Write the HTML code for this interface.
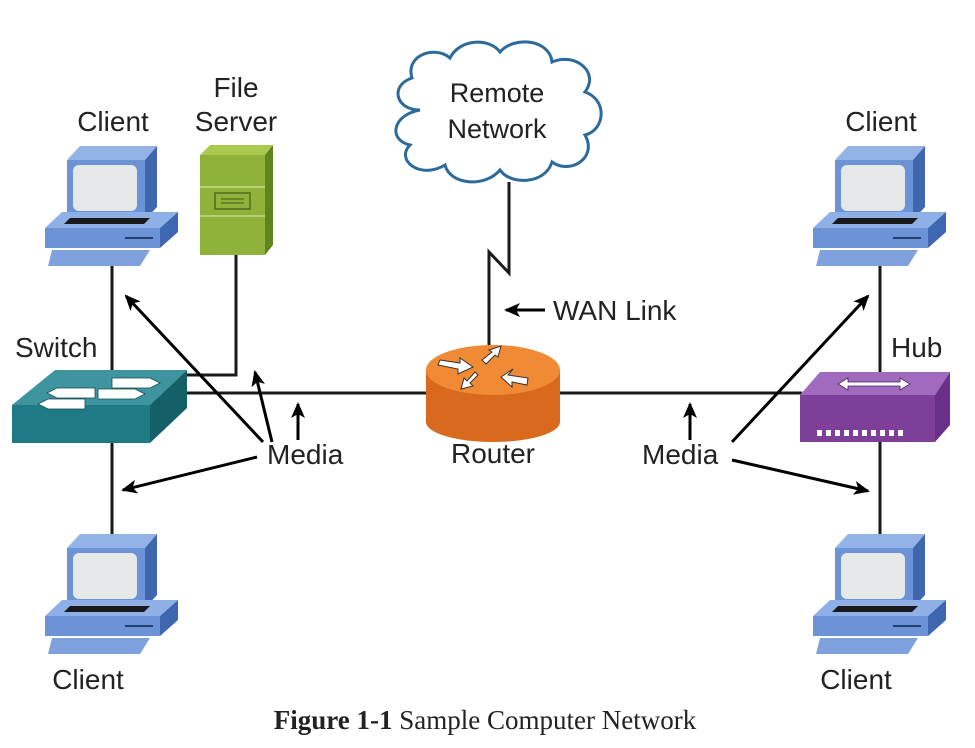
<!DOCTYPE html>
<html><head><meta charset="utf-8"><style>
html,body{margin:0;padding:0;background:#fff;}
svg{display:block;}
text{font-family:"Liberation Sans",sans-serif;fill:#222;}
</style></head><body>
<svg width="975" height="748" viewBox="0 0 975 748" xmlns="http://www.w3.org/2000/svg">
<defs>
<g id="pc">
  <polygon points="67,160 80,146 157,146 145,160" fill="#93b3e8"/>
  <polygon points="145,160 157,146 157,207 145,220" fill="#3f67b0"/>
  <rect x="67" y="160" width="78" height="60" fill="#6b93d6"/>
  <rect x="73" y="165" width="64" height="46" rx="6" fill="#e6e8ea"/>
  <polygon points="62,212 178,212 160,228 45,228" fill="#8fb0e6"/>
  <polygon points="70,218 150,218 144,224 64,224" fill="#1a1a1a"/>
  <polygon points="160,228 178,212 178,232 160,248" fill="#3f67b0"/>
  <rect x="45" y="228" width="115" height="20" fill="#6b93d6"/>
  <rect x="125" y="237" width="28" height="2" fill="#24406e"/>
  <polygon points="52,250 150,250 140,266 48,266" fill="#7fa2de"/>
</g>
<marker id="ah" markerWidth="16" markerHeight="14" refX="14" refY="7" orient="auto" markerUnits="userSpaceOnUse">
  <path d="M0,0 L16,7 L0,14 L4,7 Z" fill="#000"/>
</marker>
</defs>

<g stroke="#1a1a1a" stroke-width="3" fill="none">
  <line x1="112" y1="266" x2="112" y2="372"/>
  <line x1="112" y1="443" x2="112" y2="534"/>
  <polyline points="236,255 236,375 187,375"/>
  <line x1="187" y1="393" x2="430" y2="393"/>
  <line x1="556" y1="393" x2="802" y2="393"/>
  <polyline points="509,182 509,273 489,252 489,350"/>
  <line x1="880" y1="266" x2="880" y2="374"/>
  <line x1="880" y1="442" x2="880" y2="534"/>
</g>

<use href="#pc"/>
<use href="#pc" transform="translate(0,388)"/>
<use href="#pc" transform="translate(768,0)"/>
<use href="#pc" transform="translate(768,388)"/>

<polygon points="200,155 210,145 273,145 265,155" fill="#a9c94f"/>
<polygon points="265,155 273,145 273,245 265,255" fill="#5f8420"/>
<rect x="200" y="155" width="65" height="100" fill="#8fb23a"/>
<line x1="200" y1="187" x2="265" y2="187" stroke="#c3d98a" stroke-width="1.5"/>
<line x1="200" y1="216" x2="265" y2="216" stroke="#c3d98a" stroke-width="1.5"/>
<rect x="215" y="193" width="35" height="16" fill="none" stroke="#4d6d1a" stroke-width="1.5"/>
<line x1="221" y1="199" x2="244" y2="199" stroke="#4d6d1a" stroke-width="1.2"/>
<line x1="221" y1="203" x2="244" y2="203" stroke="#4d6d1a" stroke-width="1.2"/>

<polygon points="12,405 55,370 187,370 150,405" fill="#3e95a0"/>
<polygon points="150,405 187,370 187,408 150,443" fill="#155f68"/>
<rect x="12" y="405" width="138" height="38" fill="#1e7a85"/>
<g fill="#fff" stroke="#0f4a50" stroke-width="0.8">
  <polygon points="112,378 150,378 160,383 150,388 112,388"/>
  <polygon points="95,388 57,388 47,393 57,398 95,398"/>
  <polygon points="98,389 135,389 145,394 135,399 98,399"/>
  <polygon points="85,399 48,399 38,404 48,409 85,409"/>
</g>

<path d="M426,370 L426,422 A67,20 0 0 0 560,422 L560,370 Z" fill="#d9691c"/>
<ellipse cx="493" cy="370" rx="67" ry="25" fill="#f08a34"/>
<g fill="#fff" stroke="#333" stroke-width="1">
  <polygon points="440,360 460,363 460,358 473,367 458,374 458,369 438,365"/>
  <polygon points="482,360 492,352 489,350 501,346 498,357 495,355 486,364"/>
  <polygon points="508,375 528,378 527,385 512,382 512,387 501,377 513,369"/>
  <polygon points="478,375 470,383 473,386 461,389 464,378 467,381 475,372"/>
</g>

<polygon points="800,395 820,372 950,372 935,395" fill="#a06bbf"/>
<polygon points="935,395 950,372 950,425 935,442" fill="#6a2f88"/>
<rect x="800" y="395" width="135" height="47" fill="#7e3f9b"/>
<polygon points="838,384 848,378 848,382 900,382 900,378 910,384 900,390 900,386 848,386 848,390" fill="#fff" stroke="#4a1d60" stroke-width="0.8"/>
<g fill="#fff">
  <rect x="817" y="430" width="5" height="6"/><rect x="826" y="430" width="5" height="6"/><rect x="835" y="430" width="5" height="6"/><rect x="844" y="430" width="5" height="6"/><rect x="853" y="430" width="5" height="6"/><rect x="862" y="430" width="5" height="6"/><rect x="871" y="430" width="5" height="6"/><rect x="880" y="430" width="5" height="6"/><rect x="889" y="430" width="5" height="6"/><rect x="898" y="430" width="5" height="6"/>
</g>

<path d="M420,110 C395,110 390,85 412,78 C405,55 435,45 450,58 C460,38 490,38 500,52 C515,35 550,40 552,62 C575,52 600,72 585,92 C608,100 605,130 585,135 C598,158 570,175 552,162 C545,185 510,185 500,170 C485,188 450,185 445,165 C420,180 395,160 410,145 C388,140 392,115 420,110 Z" fill="#fff" stroke="#2b6a9a" stroke-width="3"/>
<text x="497" y="102" font-size="27" text-anchor="middle">Remote</text>
<text x="497" y="138" font-size="27" text-anchor="middle">Network</text>

<g stroke="#000" stroke-width="3" fill="none" marker-end="url(#ah)">
  <line x1="545" y1="310" x2="506" y2="310"/>
  <line x1="263" y1="442" x2="126" y2="296"/>
  <line x1="272" y1="442" x2="255" y2="372"/>
  <line x1="298" y1="440" x2="298" y2="404"/>
  <line x1="257" y1="457" x2="123" y2="490"/>
  <line x1="690" y1="440" x2="690" y2="404"/>
  <line x1="732" y1="442" x2="868" y2="296"/>
  <line x1="732" y1="460" x2="868" y2="491"/>
</g>

<g font-size="28">
  <text x="113" y="131" text-anchor="middle">Client</text>
  <text x="236" y="97" text-anchor="middle">File</text>
  <text x="236" y="131" text-anchor="middle">Server</text>
  <text x="15" y="357">Switch</text>
  <text x="553" y="320">WAN Link</text>
  <text x="881" y="131" text-anchor="middle">Client</text>
  <text x="891" y="357">Hub</text>
  <text x="267" y="464">Media</text>
  <text x="493" y="463" text-anchor="middle">Router</text>
  <text x="642" y="464">Media</text>
  <text x="88" y="689" text-anchor="middle">Client</text>
  <text x="856" y="689" text-anchor="middle">Client</text>
</g>
<text x="485" y="729" text-anchor="middle" font-size="27" style="font-family:'Liberation Serif',serif"><tspan font-weight="bold">Figure 1-1</tspan> Sample Computer Network</text>
</svg>
</body></html>
